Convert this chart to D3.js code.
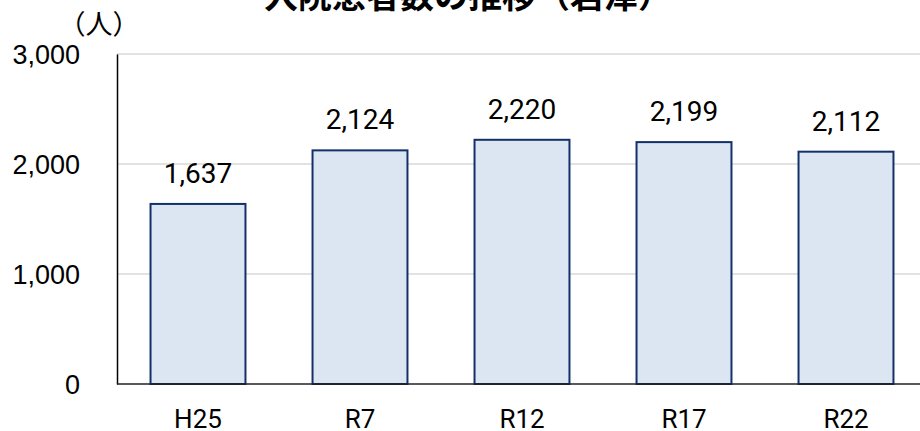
<!DOCTYPE html>
<html><head><meta charset="utf-8">
<script src="https://cdn.jsdelivr.net/npm/d3@7"></script>
<style>html,body{margin:0;padding:0;background:#fff;overflow:hidden}</style>
</head><body><svg id="c" width="920" height="431"></svg>
<script>
const categories = ["H25","R7","R12","R17","R22"];
const values = [1637,2124,2220,2199,2112];
const yTicks = [0,1000,2000,3000];
const title = "入院患者数の推移（岩津）";
const unitLabel = "（人）";

(function(){
const svg = d3.select("#c");
const mLeft = 117, mRight = 927, mTop = 54, mBottom = 384;
const x = d3.scaleBand().domain(categories).range([mLeft, mRight]).paddingInner(0.414).paddingOuter(0.207);
const y = d3.scaleLinear().domain([0,3000]).range([mBottom, mTop]);
const fmt = d3.format(",");

svg.append("g").selectAll("line").data(yTicks.filter(d=>d>0)).join("line")
  .attr("x1", mLeft).attr("x2", 920).attr("y1", d=>y(d)).attr("y2", d=>y(d))
  .attr("stroke", "#d9d9d9").attr("stroke-width", 1.5);

const ya = svg.append("g").attr("transform", `translate(${mLeft},0)`)
  .call(d3.axisLeft(y).tickValues(yTicks).tickFormat(fmt).tickSize(0).tickPadding(37));
ya.select(".domain").attr("stroke","#000").attr("stroke-width",1.5);
ya.selectAll("text").attr("font-family","'Liberation Sans', Arial, sans-serif").attr("font-size",27).attr("fill","#000").attr("dy","0.35em");

svg.append("g").selectAll("rect").data(values).join("rect")
  .attr("x", (d,i)=>x(categories[i])).attr("width", x.bandwidth())
  .attr("y", d=>y(d)).attr("height", d=>mBottom - y(d))
  .attr("fill", "#dce6f2").attr("stroke", "#13306a").attr("stroke-width", 2);

const xa = svg.append("g").attr("transform", `translate(0,${mBottom})`)
  .call(d3.axisBottom(x).tickSize(0).tickPadding(0));
xa.select(".domain").attr("stroke","#222").attr("stroke-width",1.5).attr("d", `M${mLeft},0H920`);
xa.selectAll("text").attr("font-family","Roboto, 'Noto Sans', sans-serif").attr("font-size",26).attr("fill","#000")
  .attr("dy", null).attr("y", 44);

svg.append("g").selectAll("text").data(values).join("text")
  .attr("x", (d,i)=>x(categories[i]) + x.bandwidth()/2)
  .attr("y", d=>y(d) - 21)
  .attr("text-anchor","middle")
  .attr("font-family","Roboto, 'Noto Sans', sans-serif").attr("font-size",28).attr("fill","#000")
  .text(d=>fmt(d));

svg.append("text").attr("x", 468).attr("y", 8).attr("text-anchor","middle")
  .attr("font-family","'Noto Sans CJK JP', sans-serif").attr("font-weight","bold").attr("font-size",34)
  .attr("fill","#000").text(title);

svg.append("text").attr("x", 99).attr("y", 34).attr("text-anchor","middle")
  .attr("font-family","'Noto Sans CJK JP', sans-serif").attr("font-size",27).attr("fill","#000")
  .text(unitLabel);
})();
</script></body></html>
